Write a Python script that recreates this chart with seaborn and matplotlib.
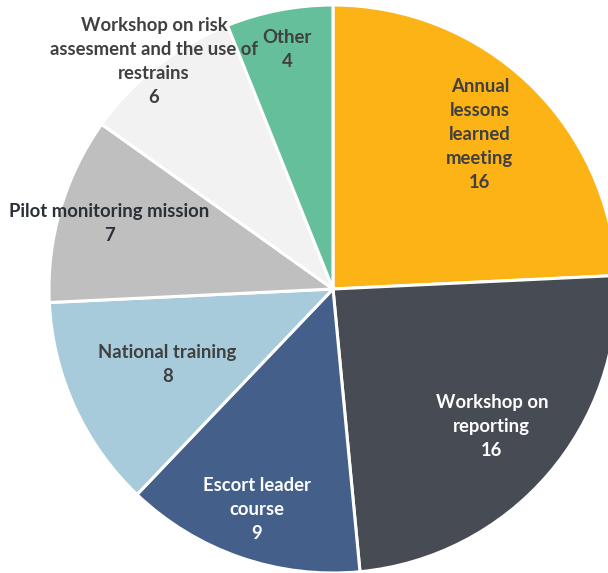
import numpy as np
import matplotlib
matplotlib.use("Agg")
import matplotlib.pyplot as plt
import seaborn as sns

# Data
categories = [
    "Annual\nlessons\nlearned\nmeeting",
    "Workshop on\nreporting",
    "Escort leader\ncourse",
    "National training",
    "Pilot monitoring mission",
    "Workshop on risk\nassesment and the use of\nrestrains",
    "Other",
]
counts = [16, 16, 9, 8, 7, 6, 4]

# Style
colors = sns.color_palette(["#FBB316", "#474B54", "#44608A", "#A7CBDA",
                            "#BFBFBF", "#F2F2F2", "#66BF9B"])
text_colors = ["#404040", "white", "white", "#404040", "#2b2f38", "#404040", "#404040"]
label_radius = [0.75, 0.74, 0.82, 0.64, 0.82, 1.02, 0.86]

sns.set_theme(style="white")
plt.rcParams["font.family"] = ["Lato", "DejaVu Sans"]

fig = plt.figure(figsize=(6.08, 5.73), dpi=100)
ax = fig.add_axes([0, 0, 1, 1])

wedges, _ = ax.pie(
    counts,
    colors=colors,
    startangle=90,
    counterclock=False,
    radius=1.0,
    wedgeprops={"edgecolor": "white", "linewidth": 2.2},
)

# Labels inside wedges
for w, cat, n, r, tc in zip(wedges, categories, counts, label_radius, text_colors):
    mid = np.deg2rad((w.theta1 + w.theta2) / 2)
    ax.text(r * np.cos(mid), r * np.sin(mid), f"{cat}\n{n}",
            ha="center", va="center", fontsize=13.3, fontweight="bold",
            color=tc, linespacing=1.5)

# Frame the pie as in the reference (slightly cropped on the right)
scale = 284.0
cx, cy = 333.0, 284.0
ax.set_aspect("auto")
ax.set_xlim(-cx / scale, (608 - cx) / scale)
ax.set_ylim(-cy / scale, (573 - cy) / scale)
ax.axis("off")

fig.savefig("out.png", dpi=100)
